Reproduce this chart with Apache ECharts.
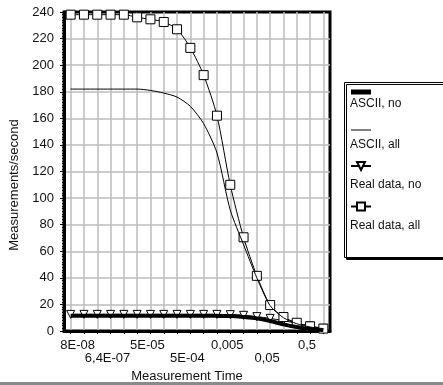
<!DOCTYPE html>
<html><head><meta charset="utf-8">
<script src="https://cdn.jsdelivr.net/npm/echarts@6/dist/echarts.min.js"></script>
<style>html,body{margin:0;padding:0;background:#fff}#c{width:443px;height:385px}</style>
</head><body><div id="c"></div>
<script>
// Measurement time categories (only every third is labelled on the axis)
const categories = ['8E-08','1,6E-07','3,2E-07','6,4E-07','1,3E-06','5E-06','5E-05','1E-04','2,5E-04','5E-04',
                    '1E-03','2,5E-03','0,005','0,01','0,025','0,05','0,1','0,25','0,5','1'];
const seriesNames = ['ASCII, no','ASCII, all','Real data, no','Real data, all'];
const asciiNo  = [11.5,11.5,11.5,11.5,11.5,11.5,11.5,11.5,11.5,11.5,11.5,11.4,11.2,10.5,9.5,7.5,5,3,1.5,0.7];
const asciiAll = [182,182,182,182,182,182,181,179,176,169,156,134,91,65,40,19,10,5.5,3,1.5];
const realNo   = [12.5,12.5,12.5,12.5,12.5,12.5,12.5,12.5,12.5,12.5,12.5,12.5,12.3,11.8,10.8,9.5,7.8,5.8,3.8,2];
const realAll  = [238,238,238,238,238,236,234.5,232.5,227,213,192.5,162,110,70.5,41.5,19.5,10.5,6.2,3.5,1.8];
const yMin = 0, yMax = 240, yStep = 20;

const FONT = '"Liberation Sans", Arial, sans-serif';
const chart = echarts.init(document.getElementById('c'), null, {renderer:'canvas'});
const legendItems = [{name:seriesNames[0],icon:'path://M0,0H20V5H0Z'},{name:seriesNames[1],icon:'path://M0,0H20V1H0Z'},{name:seriesNames[2]},{name:seriesNames[3]}];
const option = {
  animation:false,
  backgroundColor:'#fff',
  textStyle:{fontFamily:FONT},
  grid:{left:64,right:113,top:12,bottom:54,show:true,borderColor:'#000',borderWidth:3,backgroundColor:'transparent',
        outerBoundsMode:'none', containLabel:false},
  xAxis:{
    type:'category', data:categories, boundaryGap:true,
    axisLine:{lineStyle:{color:'#000',width:3}},
    axisTick:{show:true, alignWithLabel:true, interval:0, length:3, lineStyle:{color:'#000',width:1}},
    splitLine:{show:true, alignWithLabel:true, interval:0, lineStyle:{color:'#bdbdbd',width:1.5}},
    axisLabel:{interval:0, margin:8, fontSize:13, lineHeight:13, color:'#111', fontFamily:FONT,
      showMinLabel:true, showMaxLabel:false, hideOverlap:false,
      padding:[0,6,0,0],
      rich:{f:{fontSize:13,lineHeight:13,color:'#111',fontFamily:FONT,padding:[0,0,0,20]}},
      formatter:(v,i)=> (i===0 ? '{f|'+v+'}' : (i%3!==0 ? '' : (i%6===3 ? '\n'+v : v)))},
    name:'Measurement Time', nameLocation:'middle', nameGap:35,
    nameTextStyle:{fontSize:13,color:'#111',fontFamily:FONT,padding:[0,20,0,0]}
  },
  yAxis:{
    type:'value', min:yMin, max:yMax, interval:yStep,
    axisLine:{show:true,lineStyle:{color:'#000',width:3}},
    axisTick:{show:true,length:4,lineStyle:{color:'#000'}},
    minorTick:{show:true,splitNumber:10,length:2,lineStyle:{color:'#000'}},
    splitLine:{show:true,showMaxLine:false,showMinLine:false,lineStyle:{color:'#bdbdbd',width:1.5}},
    axisLabel:{margin:10,fontSize:13,color:'#111',fontFamily:FONT},
    name:'Measurements/second', nameLocation:'middle', nameGap:42,
    nameTextStyle:{fontSize:13,color:'#111',fontFamily:FONT,padding:[0,27,0,0]}
  },
  legend:[
    { // icons
      orient:'vertical', left:350, top:87, padding:0, itemGap:30.5, itemWidth:20, itemHeight:10,
      selectedMode:false, formatter:()=>'', textStyle:{fontSize:1},
      data:legendItems
    },
    { // labels
      orient:'vertical', left:345, top:97, padding:0, itemGap:26.5, itemWidth:0, itemHeight:14,
      selectedMode:false, icon:'none',
      textStyle:{fontSize:12,color:'#111',fontFamily:FONT,lineHeight:14},
      data:seriesNames.map(n=>({name:n,icon:'none'}))
    }
  ],
  graphic:[
    {type:'rect', x:344.5, y:82.5, z:0, shape:{x:0,y:0,width:110,height:175},
     style:{fill:'#fff',stroke:'#000',lineWidth:1,shadowColor:'#000',shadowOffsetX:2,shadowOffsetY:2,shadowBlur:0}},
    {type:'rect', x:0, y:382, z:0, shape:{x:0,y:0,width:443,height:3}, style:{fill:'#8a8a8a'}}
  ],
  series:[
    {name:seriesNames[0], type:'line', data:asciiNo, symbol:'none', smooth:0.25, z:5,
     lineStyle:{color:'#000',width:4}, itemStyle:{color:'#000'}},
    {name:seriesNames[1], type:'line', data:asciiAll, symbol:'none', smooth:0.25, z:4,
     lineStyle:{color:'#000',width:1}, itemStyle:{color:'#000'}},
    {name:seriesNames[2], type:'line', data:realNo, symbol:'triangle', symbolRotate:180, symbolSize:8, showAllSymbol:true, smooth:0.25, z:3,
     lineStyle:{color:'#000',width:1}, itemStyle:{color:'#fff',borderColor:'#000',borderWidth:1}},
    {name:seriesNames[3], type:'line', data:realAll, symbol:'rect', symbolSize:9, showAllSymbol:true, smooth:0.25, z:3,
     lineStyle:{color:'#000',width:1}, itemStyle:{color:'#fff',borderColor:'#000',borderWidth:1}}
  ]
};
chart.setOption(option);
</script></body></html>
